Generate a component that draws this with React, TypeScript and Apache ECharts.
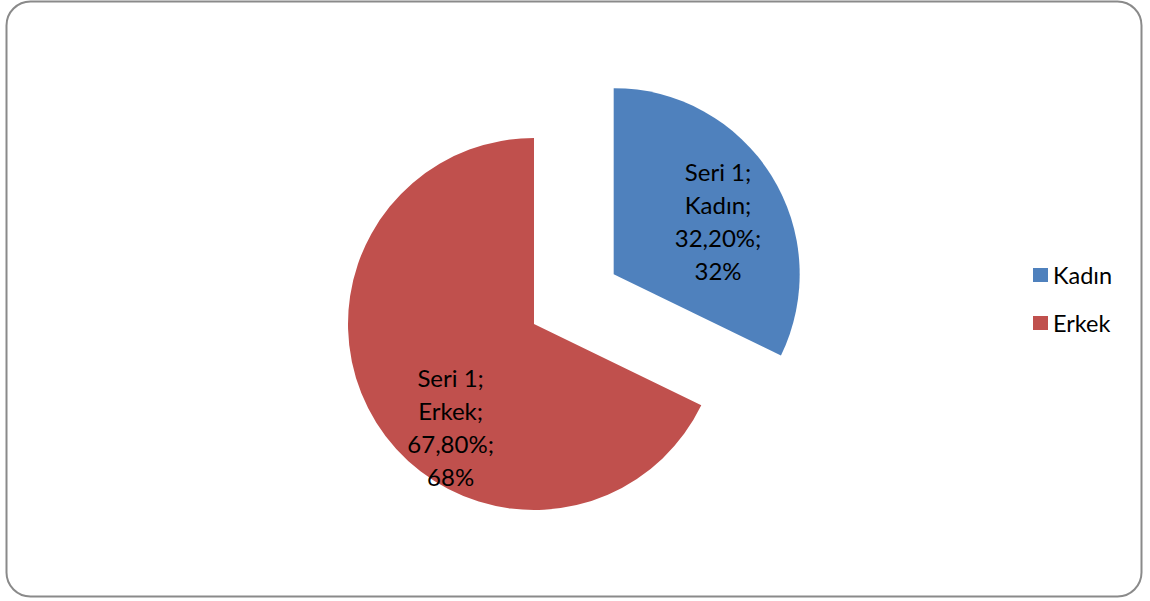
import React, { useEffect, useRef } from "react";
import * as echarts from "echarts";

const seriesName = "Seri 1";
const categories = ["Kadın", "Erkek"];
const values = [32.2, 67.8];
const colors = ["#4F81BD", "#C0504D"];

export default function App() {
  const ref = useRef<HTMLDivElement>(null);
  useEffect(() => {
    if (!ref.current) return;
    const chart = echarts.init(ref.current, undefined, { renderer: "svg" });
    const labelShift = [
      { dx: 23, dy: -2 },
      { dx: -2, dy: 52 },
    ];
    chart.setOption({
      animation: false,
      backgroundColor: "#ffffff",
      color: colors,
      graphic: [
        {
          type: "rect",
          shape: { x: 6.5, y: 1.5, width: 1135, height: 595, r: 24 },
          style: { fill: "none", stroke: "#8a8a8a", lineWidth: 2 },
          silent: true,
        },
      ],
      legend: {
        orient: "vertical",
        left: 1033,
        top: 262,
        padding: 0,
        itemWidth: 15,
        itemHeight: 14,
        itemGap: 22,
        icon: "rect",
        selectedMode: false,
        data: categories,
        textStyle: {
          fontFamily: "Lato",
          fontSize: 23.5,
          lineHeight: 26,
          color: "#000",
        },
      },
      series: [
        {
          name: seriesName,
          type: "pie",
          center: [534, 324],
          radius: 186,
          startAngle: 90,
          clockwise: true,
          selectedMode: "multiple",
          selectedOffset: 94,
          avoidLabelOverlap: false,
          emphasis: { disabled: true },
          itemStyle: { borderWidth: 0 },
          label: {
            show: true,
            position: "inside",
            fontFamily: "Lato",
            fontSize: 24,
            lineHeight: 33,
            color: "#000",
            align: "center",
            formatter: (p: any) =>
              `${p.seriesName};\n${p.name};\n${p.value
                .toFixed(2)
                .replace(".", ",")}%;\n${Math.round(p.percent)}%`,
          },
          labelLine: { show: false },
          labelLayout: (p: any) => labelShift[p.dataIndex],
          data: categories.map((c, i) => ({
            name: c,
            value: values[i],
            selected: i === 0,
          })),
        },
      ],
    });
    return () => chart.dispose();
  }, []);
  return (
    <div
      ref={ref}
      style={{ position: "absolute", left: 0, top: 0, width: 1150, height: 601 }}
    />
  );
}
